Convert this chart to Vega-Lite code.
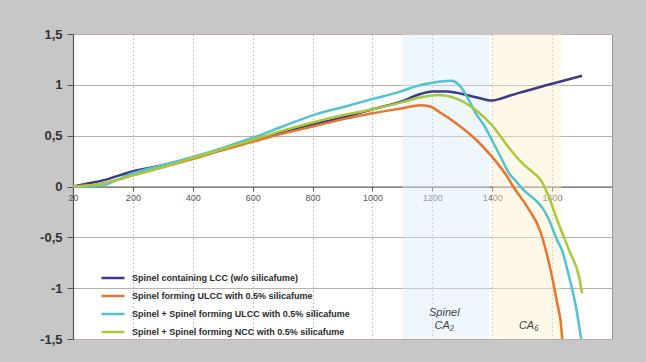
{
  "$schema": "https://vega.github.io/schema/vega-lite/v6.json",
  "width": 539,
  "height": 305,
  "autosize": {"type": "none"},
  "padding": {"left": 73, "top": 34, "right": 34, "bottom": 23},
  "background": "#c7c7c7",
  "config": {
    "view": {"fill": "#ffffff", "stroke": "#9a9a9a", "strokeWidth": 1},
    "font": "Liberation Sans"
  },
  "resolve": {"scale": {"color": "independent"}},
  "datasets": {
    "bands": [
      {"start": 1100, "end": 1390, "zone": "blue"},
      {"start": 1400, "end": 1630, "zone": "yellow"}
    ],
    "notes": [
      {"t": 1240, "v": -1.24, "text": "Spinel"},
      {"t": 1240, "v": -1.37, "text": "CA₂"},
      {"t": 1522, "v": -1.37, "text": "CA₆"}
    ],
    "curves": [
      {"s": "Spinel containing LCC (w/o silicafume)", "t": 0, "v": 0},
      {"s": "Spinel containing LCC (w/o silicafume)", "t": 50, "v": 0.03},
      {"s": "Spinel containing LCC (w/o silicafume)", "t": 100, "v": 0.06},
      {"s": "Spinel containing LCC (w/o silicafume)", "t": 200, "v": 0.15},
      {"s": "Spinel containing LCC (w/o silicafume)", "t": 300, "v": 0.21},
      {"s": "Spinel containing LCC (w/o silicafume)", "t": 400, "v": 0.28},
      {"s": "Spinel containing LCC (w/o silicafume)", "t": 500, "v": 0.36},
      {"s": "Spinel containing LCC (w/o silicafume)", "t": 600, "v": 0.45},
      {"s": "Spinel containing LCC (w/o silicafume)", "t": 700, "v": 0.53},
      {"s": "Spinel containing LCC (w/o silicafume)", "t": 800, "v": 0.61},
      {"s": "Spinel containing LCC (w/o silicafume)", "t": 900, "v": 0.68},
      {"s": "Spinel containing LCC (w/o silicafume)", "t": 1000, "v": 0.76},
      {"s": "Spinel containing LCC (w/o silicafume)", "t": 1100, "v": 0.84},
      {"s": "Spinel containing LCC (w/o silicafume)", "t": 1150, "v": 0.9},
      {"s": "Spinel containing LCC (w/o silicafume)", "t": 1200, "v": 0.935},
      {"s": "Spinel containing LCC (w/o silicafume)", "t": 1250, "v": 0.935},
      {"s": "Spinel containing LCC (w/o silicafume)", "t": 1300, "v": 0.91},
      {"s": "Spinel containing LCC (w/o silicafume)", "t": 1350, "v": 0.875},
      {"s": "Spinel containing LCC (w/o silicafume)", "t": 1400, "v": 0.845},
      {"s": "Spinel containing LCC (w/o silicafume)", "t": 1430, "v": 0.865},
      {"s": "Spinel containing LCC (w/o silicafume)", "t": 1460, "v": 0.895},
      {"s": "Spinel containing LCC (w/o silicafume)", "t": 1500, "v": 0.93},
      {"s": "Spinel containing LCC (w/o silicafume)", "t": 1600, "v": 1.01},
      {"s": "Spinel containing LCC (w/o silicafume)", "t": 1700, "v": 1.09},
      {"s": "Spinel forming ULCC with 0.5% silicafume", "t": 0, "v": 0},
      {"s": "Spinel forming ULCC with 0.5% silicafume", "t": 100, "v": 0.03},
      {"s": "Spinel forming ULCC with 0.5% silicafume", "t": 200, "v": 0.11},
      {"s": "Spinel forming ULCC with 0.5% silicafume", "t": 300, "v": 0.19},
      {"s": "Spinel forming ULCC with 0.5% silicafume", "t": 400, "v": 0.27},
      {"s": "Spinel forming ULCC with 0.5% silicafume", "t": 500, "v": 0.36},
      {"s": "Spinel forming ULCC with 0.5% silicafume", "t": 600, "v": 0.44},
      {"s": "Spinel forming ULCC with 0.5% silicafume", "t": 700, "v": 0.52},
      {"s": "Spinel forming ULCC with 0.5% silicafume", "t": 800, "v": 0.59},
      {"s": "Spinel forming ULCC with 0.5% silicafume", "t": 900, "v": 0.66},
      {"s": "Spinel forming ULCC with 0.5% silicafume", "t": 1000, "v": 0.72},
      {"s": "Spinel forming ULCC with 0.5% silicafume", "t": 1100, "v": 0.77},
      {"s": "Spinel forming ULCC with 0.5% silicafume", "t": 1160, "v": 0.8},
      {"s": "Spinel forming ULCC with 0.5% silicafume", "t": 1190, "v": 0.79},
      {"s": "Spinel forming ULCC with 0.5% silicafume", "t": 1230, "v": 0.72},
      {"s": "Spinel forming ULCC with 0.5% silicafume", "t": 1280, "v": 0.62},
      {"s": "Spinel forming ULCC with 0.5% silicafume", "t": 1346, "v": 0.46},
      {"s": "Spinel forming ULCC with 0.5% silicafume", "t": 1400, "v": 0.29},
      {"s": "Spinel forming ULCC with 0.5% silicafume", "t": 1456, "v": 0.07},
      {"s": "Spinel forming ULCC with 0.5% silicafume", "t": 1470, "v": 0.0},
      {"s": "Spinel forming ULCC with 0.5% silicafume", "t": 1517, "v": -0.2},
      {"s": "Spinel forming ULCC with 0.5% silicafume", "t": 1563, "v": -0.46},
      {"s": "Spinel forming ULCC with 0.5% silicafume", "t": 1582, "v": -0.66},
      {"s": "Spinel forming ULCC with 0.5% silicafume", "t": 1600, "v": -0.89},
      {"s": "Spinel forming ULCC with 0.5% silicafume", "t": 1617, "v": -1.15},
      {"s": "Spinel forming ULCC with 0.5% silicafume", "t": 1628, "v": -1.32},
      {"s": "Spinel forming ULCC with 0.5% silicafume", "t": 1634, "v": -1.5},
      {"s": "Spinel + Spinel forming ULCC with 0.5% silicafume", "t": 0, "v": 0},
      {"s": "Spinel + Spinel forming ULCC with 0.5% silicafume", "t": 60, "v": 0.0},
      {"s": "Spinel + Spinel forming ULCC with 0.5% silicafume", "t": 110, "v": 0.02},
      {"s": "Spinel + Spinel forming ULCC with 0.5% silicafume", "t": 150, "v": 0.07},
      {"s": "Spinel + Spinel forming ULCC with 0.5% silicafume", "t": 200, "v": 0.13},
      {"s": "Spinel + Spinel forming ULCC with 0.5% silicafume", "t": 300, "v": 0.21},
      {"s": "Spinel + Spinel forming ULCC with 0.5% silicafume", "t": 400, "v": 0.29},
      {"s": "Spinel + Spinel forming ULCC with 0.5% silicafume", "t": 500, "v": 0.38},
      {"s": "Spinel + Spinel forming ULCC with 0.5% silicafume", "t": 600, "v": 0.48},
      {"s": "Spinel + Spinel forming ULCC with 0.5% silicafume", "t": 700, "v": 0.59},
      {"s": "Spinel + Spinel forming ULCC with 0.5% silicafume", "t": 800, "v": 0.7},
      {"s": "Spinel + Spinel forming ULCC with 0.5% silicafume", "t": 900, "v": 0.78},
      {"s": "Spinel + Spinel forming ULCC with 0.5% silicafume", "t": 1000, "v": 0.86},
      {"s": "Spinel + Spinel forming ULCC with 0.5% silicafume", "t": 1100, "v": 0.94},
      {"s": "Spinel + Spinel forming ULCC with 0.5% silicafume", "t": 1150, "v": 0.99},
      {"s": "Spinel + Spinel forming ULCC with 0.5% silicafume", "t": 1200, "v": 1.02},
      {"s": "Spinel + Spinel forming ULCC with 0.5% silicafume", "t": 1262, "v": 1.04},
      {"s": "Spinel + Spinel forming ULCC with 0.5% silicafume", "t": 1292, "v": 0.99},
      {"s": "Spinel + Spinel forming ULCC with 0.5% silicafume", "t": 1320, "v": 0.86},
      {"s": "Spinel + Spinel forming ULCC with 0.5% silicafume", "t": 1345, "v": 0.72},
      {"s": "Spinel + Spinel forming ULCC with 0.5% silicafume", "t": 1373, "v": 0.6},
      {"s": "Spinel + Spinel forming ULCC with 0.5% silicafume", "t": 1400, "v": 0.45},
      {"s": "Spinel + Spinel forming ULCC with 0.5% silicafume", "t": 1430, "v": 0.28},
      {"s": "Spinel + Spinel forming ULCC with 0.5% silicafume", "t": 1456, "v": 0.13},
      {"s": "Spinel + Spinel forming ULCC with 0.5% silicafume", "t": 1480, "v": 0.05},
      {"s": "Spinel + Spinel forming ULCC with 0.5% silicafume", "t": 1500, "v": -0.02},
      {"s": "Spinel + Spinel forming ULCC with 0.5% silicafume", "t": 1546, "v": -0.14},
      {"s": "Spinel + Spinel forming ULCC with 0.5% silicafume", "t": 1570, "v": -0.22},
      {"s": "Spinel + Spinel forming ULCC with 0.5% silicafume", "t": 1590, "v": -0.33},
      {"s": "Spinel + Spinel forming ULCC with 0.5% silicafume", "t": 1617, "v": -0.53},
      {"s": "Spinel + Spinel forming ULCC with 0.5% silicafume", "t": 1632, "v": -0.62},
      {"s": "Spinel + Spinel forming ULCC with 0.5% silicafume", "t": 1657, "v": -0.89},
      {"s": "Spinel + Spinel forming ULCC with 0.5% silicafume", "t": 1680, "v": -1.19},
      {"s": "Spinel + Spinel forming ULCC with 0.5% silicafume", "t": 1697, "v": -1.5},
      {"s": "Spinel + Spinel forming NCC with 0.5% silicafume", "t": 0, "v": 0},
      {"s": "Spinel + Spinel forming NCC with 0.5% silicafume", "t": 100, "v": 0.03},
      {"s": "Spinel + Spinel forming NCC with 0.5% silicafume", "t": 200, "v": 0.11},
      {"s": "Spinel + Spinel forming NCC with 0.5% silicafume", "t": 300, "v": 0.19},
      {"s": "Spinel + Spinel forming NCC with 0.5% silicafume", "t": 400, "v": 0.28},
      {"s": "Spinel + Spinel forming NCC with 0.5% silicafume", "t": 500, "v": 0.37},
      {"s": "Spinel + Spinel forming NCC with 0.5% silicafume", "t": 600, "v": 0.46},
      {"s": "Spinel + Spinel forming NCC with 0.5% silicafume", "t": 700, "v": 0.55},
      {"s": "Spinel + Spinel forming NCC with 0.5% silicafume", "t": 800, "v": 0.63},
      {"s": "Spinel + Spinel forming NCC with 0.5% silicafume", "t": 900, "v": 0.7},
      {"s": "Spinel + Spinel forming NCC with 0.5% silicafume", "t": 1000, "v": 0.76},
      {"s": "Spinel + Spinel forming NCC with 0.5% silicafume", "t": 1100, "v": 0.83},
      {"s": "Spinel + Spinel forming NCC with 0.5% silicafume", "t": 1150, "v": 0.87},
      {"s": "Spinel + Spinel forming NCC with 0.5% silicafume", "t": 1220, "v": 0.9},
      {"s": "Spinel + Spinel forming NCC with 0.5% silicafume", "t": 1280, "v": 0.865},
      {"s": "Spinel + Spinel forming NCC with 0.5% silicafume", "t": 1346, "v": 0.75},
      {"s": "Spinel + Spinel forming NCC with 0.5% silicafume", "t": 1400, "v": 0.6},
      {"s": "Spinel + Spinel forming NCC with 0.5% silicafume", "t": 1456, "v": 0.38},
      {"s": "Spinel + Spinel forming NCC with 0.5% silicafume", "t": 1500, "v": 0.23},
      {"s": "Spinel + Spinel forming NCC with 0.5% silicafume", "t": 1540, "v": 0.13},
      {"s": "Spinel + Spinel forming NCC with 0.5% silicafume", "t": 1563, "v": 0.06},
      {"s": "Spinel + Spinel forming NCC with 0.5% silicafume", "t": 1590, "v": -0.11},
      {"s": "Spinel + Spinel forming NCC with 0.5% silicafume", "t": 1617, "v": -0.33},
      {"s": "Spinel + Spinel forming NCC with 0.5% silicafume", "t": 1657, "v": -0.63},
      {"s": "Spinel + Spinel forming NCC with 0.5% silicafume", "t": 1690, "v": -0.89},
      {"s": "Spinel + Spinel forming NCC with 0.5% silicafume", "t": 1700, "v": -1.05}
    ]
  },
  "layer": [
    {
      "data": {"name": "bands"},
      "mark": {"type": "rect", "opacity": 0.45},
      "encoding": {
        "x": {"field": "start", "type": "quantitative", "scale": {"domain": [0, 1800], "nice": false}},
        "x2": {"field": "end"},
        "color": {
          "field": "zone", "type": "nominal",
          "scale": {"domain": ["blue", "yellow"], "range": ["#dcebf8", "#fcf0cc"]},
          "legend": null
        }
      }
    },
    {
      "data": {"name": "curves"},
      "mark": {"type": "line", "strokeWidth": 2.5, "interpolate": "monotone"},
      "encoding": {
        "x": {
          "field": "t", "type": "quantitative",
          "scale": {"domain": [0, 1800], "nice": false},
          "axis": {
            "title": null,
            "offset": -152.5,
            "values": [0, 100, 200, 300, 400, 500, 600, 700, 800, 900, 1000, 1100, 1200, 1300, 1400, 1500, 1600, 1700],
            "labelExpr": "datum.value == 0 ? '20' : (datum.value % 200 == 0 ? datum.value : '')",
            "labelFontSize": 9,
            "labelColor": "#555555",
            "labelPadding": 3,
            "labelFlush": false,
            "domainColor": "#555555",
            "domainWidth": 1.2,
            "tickColor": "#555555",
            "tickSize": 4,
            "grid": true,
            "gridColor": "#b5b5b5",
            "gridDash": [1.5, 2.5],
            "gridWidth": 1
          }
        },
        "y": {
          "field": "v", "type": "quantitative",
          "scale": {"domain": [-1.5, 1.5], "nice": false},
          "axis": {
            "title": null,
            "values": [-1.5, -1, -0.5, 0, 0.5, 1, 1.5],
            "labelExpr": "replace(replace(format(datum.value, ''), '.', ','), '−', '-')",
            "labelFontSize": 13,
            "labelFontWeight": "bold",
            "labelColor": "#333333",
            "labelPadding": 5,
            "domainColor": "#555555",
            "domainWidth": 1.2,
            "tickColor": "#555555",
            "tickSize": 6,
            "grid": true,
            "gridColor": "#bcaea4",
            "gridWidth": 1
          }
        },
        "color": {
          "field": "s", "type": "nominal",
          "scale": {
            "domain": [
              "Spinel containing LCC (w/o silicafume)",
              "Spinel forming ULCC with 0.5% silicafume",
              "Spinel + Spinel forming ULCC with 0.5% silicafume",
              "Spinel + Spinel forming NCC with 0.5% silicafume"
            ],
            "range": ["#3d3a8a", "#e8762d", "#52c3d0", "#a9c83c"]
          },
          "legend": {
            "title": null,
            "orient": "none",
            "legendX": 27,
            "legendY": 231,
            "symbolType": "stroke",
            "symbolSize": 530,
            "symbolStrokeWidth": 2.5,
            "labelFontSize": 9,
            "labelFontWeight": "bold",
            "labelColor": "#2a2a2a",
            "labelOffset": 6,
            "rowPadding": -2,
            "labelLimit": 300
          }
        }
      }
    },
    {
      "data": {"name": "notes"},
      "mark": {"type": "text", "fontSize": 11, "fontStyle": "italic", "color": "#444444"},
      "encoding": {
        "x": {"field": "t", "type": "quantitative"},
        "y": {"field": "v", "type": "quantitative"},
        "text": {"field": "text"}
      }
    }
  ]
}
